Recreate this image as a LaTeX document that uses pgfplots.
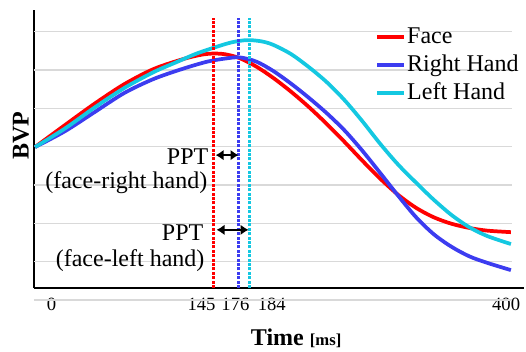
\documentclass[border=0pt]{standalone}
\usepackage{fontspec}
\setmainfont{Liberation Serif}
\usepackage{pgfplots}
\pgfplotsset{compat=1.18}
\usetikzlibrary{arrows.meta}
\definecolor{cred}{RGB}{255,0,0}
\definecolor{cblue}{RGB}{60,60,240}
\definecolor{ccyan}{RGB}{20,200,225}
\definecolor{gridc}{RGB}{217,217,217}
\begin{document}
\begin{tikzpicture}
\begin{axis}[
  scale only axis, width=367.5pt, height=208.5pt,
  xmin=-0.84, xmax=411, ymin=0.313, ymax=7.566,
  axis x line=bottom, axis y line=left,
  axis line style={-, line width=1.5pt, black},
  xtick={14,140,168.5,199,396},
  xticklabels={0,145,176,184,400},
  major tick length=0pt,
  ytick=\empty,
  xticklabel style={anchor=center, yshift=-12pt, inner sep=0pt, font=\fontsize{14}{16}\selectfont},
  clip=false,
  xlabel={\textbf{Time} {\fontsize{12.5}{14}\selectfont\textbf{[ms]}}},
  xlabel style={at={(axis description cs:0.535,-0.18)}, anchor=center, inner sep=0pt, font=\fontsize{18}{20}\selectfont},
  ylabel={\textbf{BVP}},
  ylabel style={at={(axis description cs:-0.0265,0.547)}, anchor=center, inner sep=0pt, font=\fontsize{18}{20}\selectfont},
  legend style={draw=none, fill=none, at={(axis cs:282.6,7.30)}, anchor=north west,
    font=\fontsize{18}{20}\selectfont, cells={anchor=west},
    nodes={inner sep=1pt, text height=14pt, text depth=5pt}, row sep=0pt},
  legend image code/.code={\draw[#1, line width=2.8pt] (0pt,0pt) -- (20pt,0pt);},
]
\pgfplotsinvokeforeach{1,...,7}{\draw[gridc, line width=1.1pt] (axis cs:-0.84,#1) -- (axis cs:401,#1);}
\draw[gridc, line width=1.4pt] (axis cs:-0.84,0) -- (axis cs:401,0);

\addplot[cred, line width=2.8pt, smooth] coordinates {
(0,3.99) (25,4.56) (50,5.12) (75,5.63) (100,6.03) (125,6.29) (140,6.40) (150,6.43)
(160,6.41) (172,6.31) (186,6.09) (200,5.80) (215,5.44) (230,5.04) (245,4.60)
(260,4.13) (275,3.64) (290,3.17) (305,2.75) (320,2.41) (335,2.16) (350,1.99)
(365,1.88) (380,1.81) (400,1.77)};
\addlegendentry{Face}
\addplot[cblue, line width=2.8pt, smooth] coordinates {
(0,3.99) (25,4.40) (50,4.90) (75,5.40) (100,5.77) (125,6.04) (145,6.22) (160,6.30)
(172,6.33) (186,6.22) (200,5.98) (215,5.65) (230,5.28) (245,4.88) (260,4.43)
(275,3.90) (290,3.32) (305,2.73) (320,2.17) (335,1.72) (350,1.39) (365,1.14)
(380,0.97) (400,0.78)};
\addlegendentry{Right Hand}
\addplot[ccyan, line width=2.8pt, smooth] coordinates {
(0,3.99) (25,4.47) (50,5.02) (75,5.53) (100,5.95) (120,6.22) (135,6.42) (150,6.58)
(165,6.72) (178,6.78) (190,6.75) (200,6.66) (215,6.42) (230,6.08) (245,5.69)
(260,5.22) (275,4.67) (290,4.08) (305,3.54) (320,3.07) (335,2.62) (350,2.22)
(365,1.90) (380,1.67) (400,1.46)};
\addlegendentry{Left Hand}

\addplot[cred, line width=2.6pt, dash pattern=on 2.2pt off 1.1pt, forget plot] coordinates {(150.1,0.313) (150.1,7.36)};
\addplot[cblue, line width=2.6pt, dash pattern=on 2.2pt off 1.1pt, forget plot] coordinates {(171.1,0.313) (171.1,7.36)};
\addplot[ccyan, line width=2.6pt, dash pattern=on 2.2pt off 1.1pt, forget plot] coordinates {(180.3,0.313) (180.3,7.36)};

\draw[{Latex[length=6pt,width=8pt]}-{Latex[length=6pt,width=8pt]}, line width=2pt] (axis cs:151.8,3.78) -- (axis cs:171.1,3.78);
\draw[{Latex[length=6pt,width=8pt]}-{Latex[length=6pt,width=8pt]}, line width=2pt] (axis cs:152.6,1.83) -- (axis cs:179.5,1.83);

\node[anchor=east, inner sep=0pt, font=\fontsize{18}{20}\selectfont] at (axis cs:145.9,3.73) {PPT};
\node[anchor=east, inner sep=0pt, font=\fontsize{18}{20}\selectfont] at (axis cs:145,3.05) {(face-right hand)};
\node[anchor=east, inner sep=0pt, font=\fontsize{18}{20}\selectfont] at (axis cs:141.7,1.77) {PPT};
\node[anchor=east, inner sep=0pt, font=\fontsize{18}{20}\selectfont] at (axis cs:142.6,1.04) {(face-left hand)};
\end{axis}
\pgfresetboundingbox
\useasboundingbox ([xshift=-25.5pt, yshift=-47.25pt]current axis.south west) rectangle ++(394.5pt,263.25pt);
\end{tikzpicture}
\end{document}
